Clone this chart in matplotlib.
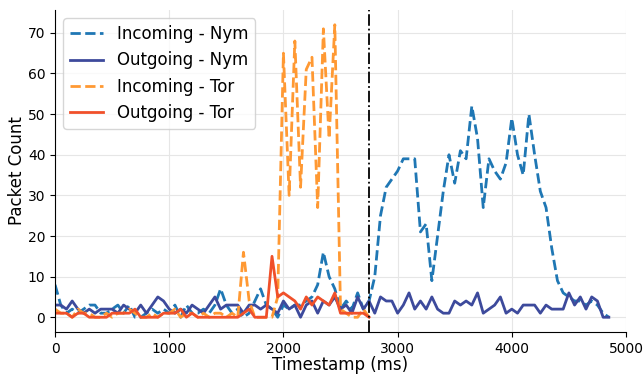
import numpy as np
import matplotlib
matplotlib.use("Agg")
import matplotlib.pyplot as plt

# timestamps every 50 ms
t_nym = np.arange(0, 4900, 50)
t_tor = np.arange(0, 2800, 50)

nym_in = [8, 3, 1, 2, 1, 2, 3, 3, 1, 1,
          2, 3, 1, 3, 0, 0, 1, 2, 1, 2,
          1, 3, 0, 3, 1, 1, 2, 1, 3, 7,
          3, 1, 2, 0, 1, 4, 7, 3, 2, 0,
          3, 2, 3, 3, 4, 5, 8, 16, 10, 7,
          2, 4, 2, 6, 2, 4, 10, 25, 32, 34,
          36, 39, 39, 39, 21, 23, 9, 20, 31, 40,
          33, 41, 39, 52, 44, 27, 39, 36, 34, 38,
          49, 40, 35, 50, 40, 31, 27, 17, 9, 6,
          5, 4, 4, 3, 4, 3, 1, 0]

nym_out = [3, 3, 2, 4, 2, 1, 2, 1, 2, 2,
           2, 1, 3, 2, 1, 3, 1, 3, 5, 4,
           2, 1, 2, 1, 3, 2, 1, 3, 5, 2,
           3, 3, 3, 1, 3, 3, 2, 3, 2, 1,
           4, 2, 3, 0, 3, 4, 1, 4, 3, 5,
           2, 3, 1, 5, 2, 4, 1, 5, 4, 4,
           1, 3, 6, 2, 4, 2, 5, 2, 1, 1,
           4, 3, 4, 3, 6, 1, 2, 3, 5, 1,
           2, 1, 3, 3, 3, 1, 3, 2, 2, 2,
           6, 3, 5, 2, 5, 4, 0, 0]

tor_in = [2, 1, 1, 0, 2, 1, 1, 0, 0, 1,
          0, 1, 1, 2, 1, 0, 0, 1, 0, 1,
          1, 2, 0, 1, 1, 0, 1, 0, 1, 1,
          0, 1, 0, 16, 4, 0, 0, 0, 0, 5,
          65, 30, 68, 32, 61, 64, 27, 71, 44, 72,
          2, 1, 0, 0, 2, 0]

tor_out = [1, 1, 1, 0, 1, 1, 0, 0, 0, 0,
           1, 1, 1, 1, 2, 0, 0, 0, 0, 1,
           1, 1, 2, 0, 1, 0, 0, 0, 0, 0,
           0, 0, 0, 1, 2, 0, 0, 0, 15, 5,
           6, 5, 4, 2, 5, 3, 5, 4, 3, 6,
           1, 1, 1, 1, 1, 0]

switch_time = 2750

fig = plt.figure(figsize=(6.44, 3.75), dpi=100)
ax = fig.add_axes([0.0855, 0.115, 0.8865, 0.858])

ax.plot(t_nym, nym_in, "--", color="#1f77b4", lw=2, label="Incoming - Nym")
ax.plot(t_nym, nym_out, "-", color="#3d4a9c", lw=2, label="Outgoing - Nym")
ax.plot(t_tor, tor_in, "--", color="#ff9933", lw=2, label="Incoming - Tor")
ax.plot(t_tor, tor_out, "-", color="#f0502a", lw=2, label="Outgoing - Tor")
ax.axvline(switch_time, color="black", ls="-.", lw=1.3)

ax.set_xlim(0, 5000)
ax.set_xlabel("Timestamp (ms)", fontsize=12, labelpad=0)
ax.set_ylabel("Packet Count", fontsize=12, labelpad=1)
ax.tick_params(labelsize=10)
ax.grid(True, color="#e6e6e6", lw=0.8)
ax.spines["top"].set_visible(False)
ax.spines["right"].set_visible(False)
ax.legend(loc="upper left", fontsize=12)

fig.savefig("out.png")
